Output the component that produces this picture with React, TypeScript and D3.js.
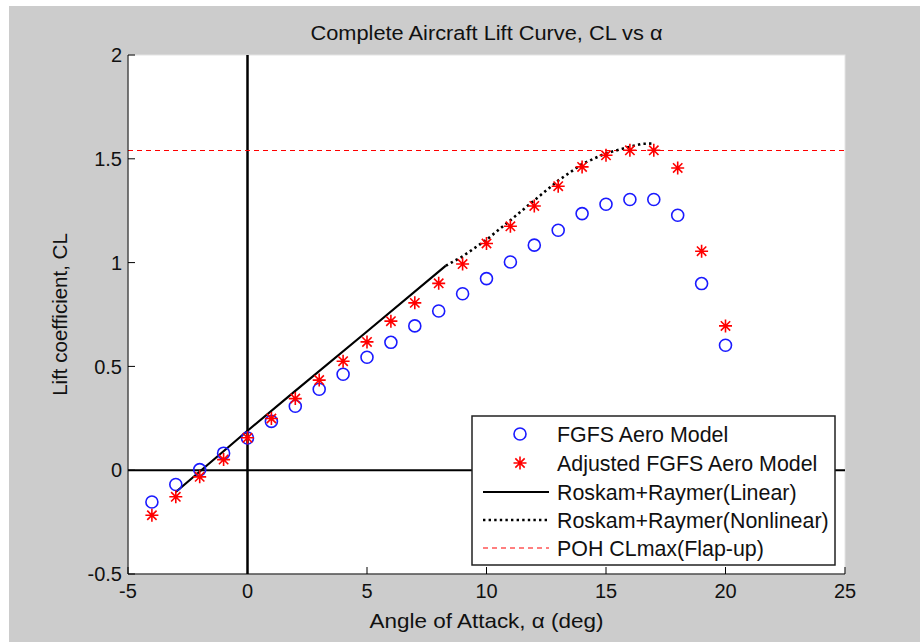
import React from "react";
import * as d3 from "d3";

// Angle of attack (deg) for the sampled aero models
const alphaDeg = [-4, -3, -2, -1, 0, 1, 2, 3, 4, 5, 6, 7, 8, 9, 10, 11, 12, 13, 14, 15, 16, 17, 18, 19, 20];
// FGFS aero model lift coefficient
const fgfsCL = [-0.153, -0.069, 0.003, 0.082, 0.155, 0.235, 0.308, 0.39, 0.462, 0.544, 0.616, 0.695, 0.767, 0.85, 0.923, 1.003, 1.084, 1.156, 1.236, 1.281, 1.304, 1.304, 1.228, 0.899, 0.602];
// Adjusted FGFS aero model lift coefficient
const adjustedCL = [-0.217, -0.128, -0.032, 0.051, 0.156, 0.249, 0.345, 0.434, 0.525, 0.618, 0.718, 0.806, 0.9, 0.993, 1.092, 1.175, 1.273, 1.368, 1.461, 1.517, 1.541, 1.541, 1.456, 1.055, 0.695];
// Roskam + Raymer linear region
const linearAlpha = [-3, 0, 2, 5, 8.3];
const linearCL = [-0.105, 0.19, 0.382, 0.668, 0.985];
// Roskam + Raymer nonlinear region
const nonlinAlpha = [8.3, 9, 10, 11, 12, 13, 14, 15, 16, 16.5, 17];
const nonlinCL = [0.985, 1.03, 1.11, 1.204, 1.3, 1.395, 1.475, 1.527, 1.558, 1.572, 1.574];
// POH maximum lift coefficient, flaps up
const clMaxPOH = 1.54;

const xTicks = [-5, 0, 5, 10, 15, 20, 25];
const yTicks = [-0.5, 0, 0.5, 1, 1.5, 2];

const legendLabels = [
  "FGFS Aero Model",
  "Adjusted FGFS Aero Model",
  "Roskam+Raymer(Linear)",
  "Roskam+Raymer(Nonlinear)",
  "POH CLmax(Flap-up)",
];

const W = 920;
const H = 642;
const plot = { left: 128, right: 845, top: 55, bottom: 574 };
const FONT = "'Liberation Sans', Arial, Helvetica, sans-serif";

function starPath(cx: number, cy: number, r: number) {
  const d = r * 0.72;
  return `M${cx - r},${cy}L${cx + r},${cy}M${cx},${cy - r}L${cx},${cy + r}` +
    `M${cx - d},${cy - d}L${cx + d},${cy + d}M${cx - d},${cy + d}L${cx + d},${cy - d}`;
}

export default function App() {
  const x = d3.scaleLinear().domain([-5, 25]).range([plot.left, plot.right]);
  const y = d3.scaleLinear().domain([-0.5, 2]).range([plot.bottom, plot.top]);

  const line = d3.line<[number, number]>().x((d) => x(d[0])).y((d) => y(d[1]));
  const linPath = line(linearAlpha.map((a, i) => [a, linearCL[i]] as [number, number])) || "";
  const nonPath = line(nonlinAlpha.map((a, i) => [a, nonlinCL[i]] as [number, number])) || "";

  const leg = { x: 472, y: 416, w: 363, h: 149 };
  const rowY = [434, 463, 492, 520, 548];
  const symX = 520;
  const lineX0 = 483;
  const lineX1 = 549;
  const textX = 557;
  const cx = (plot.left + plot.right) / 2;

  return (
    <svg
      width={W}
      height={H}
      style={{ position: "absolute", left: 0, top: 0, display: "block" }}
      fontFamily={FONT}
    >
      <rect x={0} y={0} width={W} height={H} fill="#cccccc" />
      <rect x={0} y={0} width={W} height={6} fill="#ffffff" />
      <rect x={0} y={0} width={9} height={H} fill="#ffffff" />

      {/* axes area */}
      <rect
        x={plot.left}
        y={plot.top}
        width={plot.right - plot.left}
        height={plot.bottom - plot.top}
        fill="#ffffff"
        stroke="#e4e4e4"
        strokeWidth={1}
      />

      {/* CL = 0 and alpha = 0 reference lines */}
      <line x1={plot.left} x2={plot.right} y1={y(0)} y2={y(0)} stroke="#000" strokeWidth={2} />
      <line x1={x(0)} x2={x(0)} y1={plot.top} y2={plot.bottom} stroke="#000" strokeWidth={2.5} />

      {/* POH CLmax */}
      <line
        x1={plot.left}
        x2={plot.right}
        y1={y(clMaxPOH)}
        y2={y(clMaxPOH)}
        stroke="#ff0000"
        strokeWidth={1.2}
        strokeDasharray="5,4"
      />

      {/* Roskam + Raymer curves */}
      <path d={linPath} fill="none" stroke="#000" strokeWidth={2.2} />
      <path d={nonPath} fill="none" stroke="#000" strokeWidth={2.6} strokeDasharray="2.4,3.2" />

      {/* FGFS circles */}
      {alphaDeg.map((a, i) => (
        <circle key={"c" + i} cx={x(a)} cy={y(fgfsCL[i])} r={6} fill="none" stroke="#1a1aff" strokeWidth={1.6} />
      ))}

      {/* Adjusted stars */}
      {alphaDeg.map((a, i) => (
        <path key={"s" + i} d={starPath(x(a), y(adjustedCL[i]), 6.5)} stroke="#ff0000" strokeWidth={1.6} fill="none" />
      ))}

      {/* axis lines and ticks */}
      <line x1={plot.left} x2={plot.left} y1={plot.top} y2={plot.bottom} stroke="#000" strokeWidth={1} />
      <line x1={plot.left} x2={plot.right} y1={plot.bottom} y2={plot.bottom} stroke="#000" strokeWidth={1} />
      {yTicks.map((t) => (
        <g key={"yt" + t}>
          <line x1={plot.left} x2={plot.left + 7} y1={y(t)} y2={y(t)} stroke="#000" strokeWidth={1} />
          <text x={plot.left - 6} y={y(t)} dy="0.36em" textAnchor="end" fontSize={20} fill="#111">
            {t}
          </text>
        </g>
      ))}
      {xTicks.map((t) => (
        <g key={"xt" + t}>
          <line x1={x(t)} x2={x(t)} y1={plot.bottom} y2={plot.bottom - 7} stroke="#000" strokeWidth={1} />
          <text x={x(t)} y={plot.bottom + 24} textAnchor="middle" fontSize={20} fill="#111">
            {t}
          </text>
        </g>
      ))}

      {/* legend */}
      <rect x={leg.x} y={leg.y} width={leg.w} height={leg.h} fill="#ffffff" stroke="#222" strokeWidth={1.5} />
      <circle cx={symX} cy={rowY[0]} r={6} fill="none" stroke="#1a1aff" strokeWidth={1.6} />
      <path d={starPath(symX, rowY[1], 6.5)} stroke="#ff0000" strokeWidth={1.6} fill="none" />
      <line x1={lineX0} x2={lineX1} y1={rowY[2]} y2={rowY[2]} stroke="#000" strokeWidth={2.2} />
      <line x1={lineX0} x2={lineX1} y1={rowY[3]} y2={rowY[3]} stroke="#000" strokeWidth={2.6} strokeDasharray="2.4,3.2" />
      <line x1={lineX0} x2={lineX1} y1={rowY[4]} y2={rowY[4]} stroke="#ff0000" strokeWidth={1.2} strokeDasharray="5,4" />
      {legendLabels.map((s, i) => (
        <text key={s} x={textX} y={rowY[i]} dy="0.36em" fontSize={21.4} fill="#111">
          {s}
        </text>
      ))}

      {/* titles */}
      <text x={cx} y={40} textAnchor="middle" fontSize={20.5} fill="#111" textLength={352} lengthAdjust="spacingAndGlyphs">
        Complete Aircraft Lift Curve, CL vs α
      </text>
      <text x={cx} y={628} textAnchor="middle" fontSize={21} fill="#111" textLength={234} lengthAdjust="spacingAndGlyphs">
        Angle of Attack, α (deg)
      </text>
      <text
        transform={`translate(67,${(plot.top + plot.bottom) / 2}) rotate(-90)`}
        textAnchor="middle"
        fontSize={20.5}
        fill="#111"
      >
        Lift coefficient, CL
      </text>
    </svg>
  );
}
